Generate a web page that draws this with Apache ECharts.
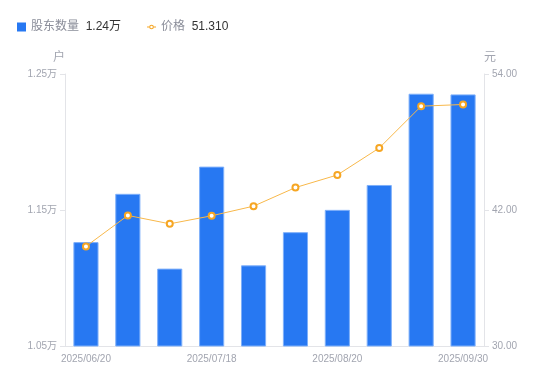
<!DOCTYPE html>
<html><head><meta charset="utf-8">
<script src="https://cdn.jsdelivr.net/npm/echarts@6/dist/echarts.min.js"></script>
<style>html,body{margin:0;padding:0;background:#fff}#c{width:550px;height:381px}</style>
</head><body><div id="c"></div>
<script>
const categories = ['2025/06/20','2025/06/30','2025/07/10','2025/07/18','2025/07/31','2025/08/08','2025/08/20','2025/08/29','2025/09/10','2025/09/30'];
const holders = [1.1264, 1.1619, 1.1069, 1.1819, 1.1093, 1.1337, 1.1501, 1.1684, 1.2355, 1.2350];
const prices = [38.79, 41.52, 40.78, 41.49, 42.34, 43.98, 45.09, 47.47, 51.16, 51.31];
const holderTicks = {min: 1.05, max: 1.25, interval: 0.1};
const priceTicks = {min: 30, max: 54, interval: 12};
const legendValues = {'股东数量': '1.24万', '价格': '51.310'};

const FONT = '"Liberation Sans", "Noto Sans CJK SC", sans-serif';
const gray = '#a2a5b0';
const lineColor = '#e3e4e8';
const lineIcon = 'path://M0,4.4L2.5,4.4L2.5,5.6L0,5.6Z M7.5,4.4L10,4.4L10,5.6L7.5,5.6Z ' +
  'M7.6,5A2.6,2.6 0 1,0 2.4,5A2.6,2.6 0 1,0 7.6,5Z M6.4,5A1.4,1.4 0 1,1 3.6,5A1.4,1.4 0 1,1 6.4,5Z';
const chart = echarts.init(document.getElementById('c'));
chart.setOption({
  animation: false,
  textStyle: {fontFamily: FONT},
  legend: {
    left: 12, top: 16, itemWidth: 9, itemHeight: 9, itemGap: 26, symbolKeepAspect: true,
    data: [
      {name: '股东数量', icon: 'rect', itemStyle: {borderWidth: 0, color: '#2778f2'}},
      {name: '价格', icon: lineIcon, itemStyle: {color: '#f6a623', borderWidth: 0}}
    ],
    formatter: n => '{a|' + n + '}  {b|' + legendValues[n] + '}',
    textStyle: {fontFamily: FONT, rich: {
      a: {fontSize: 12, color: '#8a8d99', fontFamily: FONT},
      b: {fontSize: 12, color: '#333', fontFamily: FONT}
    }}
  },
  grid: {left: 65, right: 66, top: 74, bottom: 35},
  xAxis: {
    type: 'category', data: categories,
    axisLine: {lineStyle: {color: lineColor}},
    axisTick: {show: false},
    axisLabel: {interval: 2, color: gray, fontSize: 10, margin: 8, fontFamily: FONT}
  },
  yAxis: [{
    type: 'value', min: holderTicks.min, max: holderTicks.max, interval: holderTicks.interval,
    name: '户', nameGap: 10, nameTextStyle: {color: gray, fontSize: 12, align: 'right', fontFamily: FONT},
    axisLine: {show: true, lineStyle: {color: lineColor}},
    axisTick: {show: true, length: 5, lineStyle: {color: lineColor}},
    splitLine: {show: false},
    axisLabel: {color: gray, fontSize: 10, margin: 8, fontFamily: FONT, formatter: v => v.toFixed(2) + '万'}
  }, {
    type: 'value', min: priceTicks.min, max: priceTicks.max, interval: priceTicks.interval,
    name: '元', nameGap: 10, nameTextStyle: {color: gray, fontSize: 12, align: 'left', fontFamily: FONT},
    axisLine: {show: true, lineStyle: {color: lineColor}},
    axisTick: {show: true, length: 5, lineStyle: {color: lineColor}},
    splitLine: {show: false},
    axisLabel: {color: gray, fontSize: 10, margin: 8, fontFamily: FONT, formatter: v => v.toFixed(2)}
  }],
  series: [{
    name: '股东数量', type: 'bar', data: holders, barWidth: '60%', yAxisIndex: 0,
    itemStyle: {color: '#2778f2', borderColor: '#7fb0fa', borderWidth: 1}
  }, {
    name: '价格', type: 'line', data: prices, yAxisIndex: 1,
    symbol: 'emptyCircle', symbolSize: 6,
    lineStyle: {color: '#f8b84a', width: 1},
    itemStyle: {color: '#f6a623', borderWidth: 2}
  }]
});
</script></body></html>
